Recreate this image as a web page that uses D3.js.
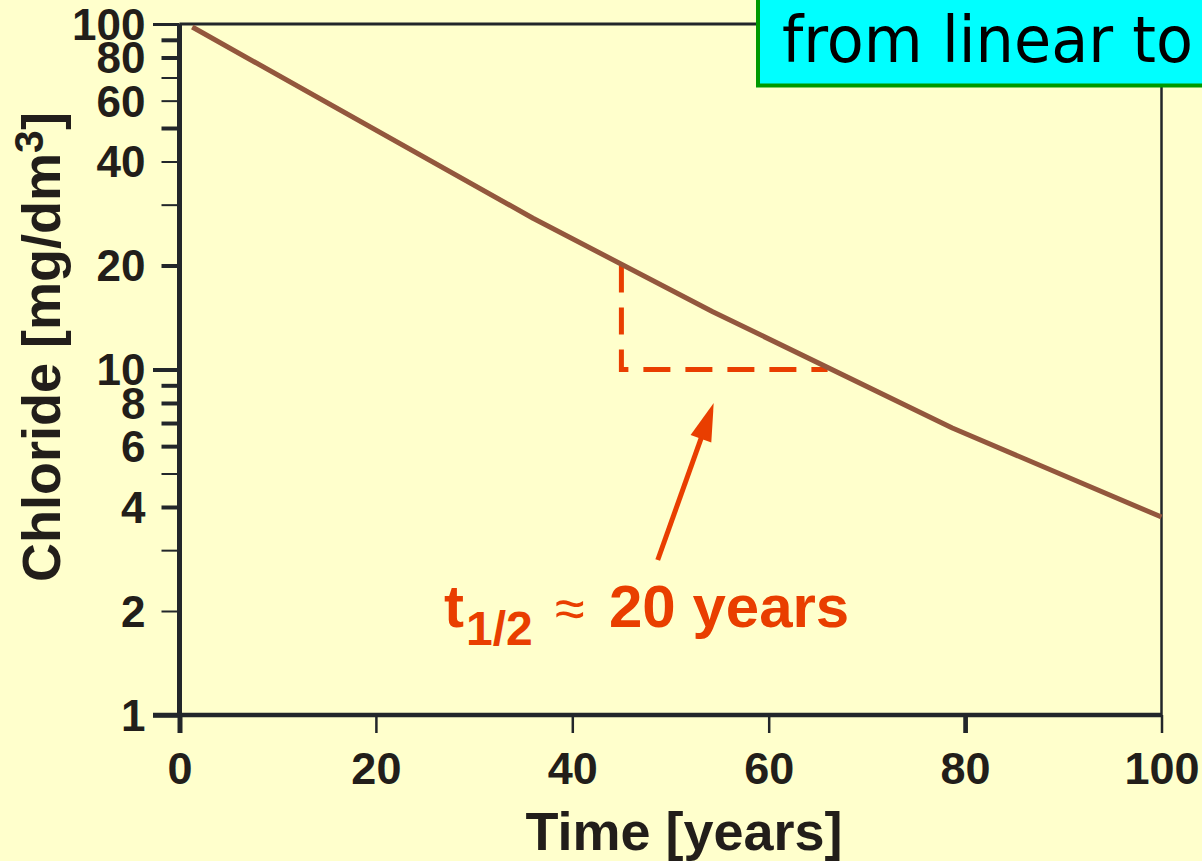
<!DOCTYPE html>
<html>
<head>
<meta charset="utf-8">
<script src="https://cdn.jsdelivr.net/npm/d3@7"></script>
<style>
  body { margin: 0; background: #ffffcc; overflow: hidden; }
  svg { display: block; }
</style>
</head>
<body>
<svg id="chart" width="1202" height="861"></svg>
<script>
// chloride decline, values
const years = [1.3, 36, 54.3, 78.7, 100];
const chloride = [98, 27.4, 14.7, 6.77, 3.74];

const xTicks = [0, 20, 40, 60, 80, 100];
const yTicks = [1, 2, 3, 4, 5, 6, 7, 8, 9, 10, 20, 30, 40, 50, 60, 70, 80, 90, 100];
const yLabels = [1, 2, 4, 6, 8, 10, 20, 40, 60, 80, 100];

// half-life guide (dashed) and the arrow pointing at it
const halfX = [45, 45, 66];
const halfY = [20, 10, 10];
const arrowX = [48.7, 54.4];
const arrowY = [2.81, 8.0];

const axisColor = '#22262a';
const textColor = '#221e1a';
const curveColor = '#93573d';
const noteColor = '#e93e00';
const font = "'Liberation Sans', Arial, Helvetica, sans-serif";

const svg = d3.select('#chart');

svg.append('rect')
  .attr('width', 1202).attr('height', 861)
  .attr('fill', '#ffffcc');

const x = d3.scaleLinear().domain([0, 100]).range([179.5, 1161.5]);
const y = d3.scaleLog().domain([1, 100]).range([715, 24]);

// heavier marks on some ticks, like the original
const yWidth = {1: 4.5, 4: 4, 6: 4, 7: 4, 8: 4, 9: 4, 10: 4, 20: 4, 50: 4, 80: 4, 90: 4, 100: 3};
const xWidth = {0: 5, 80: 4.7};

// y axis
const yAxis = svg.append('g')
  .attr('transform', 'translate(' + x(0) + ',0)')
  .call(d3.axisLeft(y)
    .tickValues(yTicks)
    .tickSize(18)
    .tickPadding(16)
    .tickFormat((d) => yLabels.includes(d) ? d : ''));
yAxis.select('.domain').remove();
yAxis.attr('font-family', font).attr('font-size', 44).attr('font-weight', 'bold');
yAxis.selectAll('.tick line')
  .attr('stroke', axisColor)
  .attr('stroke-width', (d) => yWidth[d] || 2)
  .attr('x2', (d) => (d === 1 || d === 10 || d === 100) ? -26.5 : -18);
yAxis.selectAll('.tick text').attr('fill', textColor).attr('dy', '0.35em');

// x axis
const xAxis = svg.append('g')
  .attr('transform', 'translate(0,' + y(1) + ')')
  .call(d3.axisBottom(x)
    .tickValues(xTicks)
    .tickSize(18)
    .tickPadding(19));
xAxis.select('.domain').remove();
xAxis.attr('font-family', font).attr('font-size', 45).attr('font-weight', 'bold');
xAxis.selectAll('.tick line')
  .attr('stroke', axisColor)
  .attr('stroke-width', (d) => xWidth[d] || 2.5);
xAxis.selectAll('.tick text').attr('fill', textColor);

// frame
const frame = svg.append('g').attr('stroke', axisColor);
frame.append('line')
  .attr('x1', x(0)).attr('x2', x(0)).attr('y1', y(100)).attr('y2', y(1))
  .attr('stroke-width', 5);
frame.append('line')
  .attr('x1', x(0) - 26.5).attr('x2', x(100)).attr('y1', y(1)).attr('y2', y(1))
  .attr('stroke-width', 4.5);
frame.append('line')
  .attr('x1', x(0)).attr('x2', x(100) + 1).attr('y1', y(100)).attr('y2', y(100))
  .attr('stroke-width', 3);
frame.append('line')
  .attr('x1', x(100)).attr('x2', x(100)).attr('y1', y(100)).attr('y2', y(1))
  .attr('stroke-width', 2.5);

// dashed half-life triangle
const line = d3.line()
  .x((d) => x(d[0]))
  .y((d) => y(d[1]));

svg.append('path')
  .datum(d3.zip(halfX, halfY))
  .attr('d', line)
  .attr('fill', 'none')
  .attr('stroke', noteColor)
  .attr('stroke-width', 5)
  .attr('stroke-dasharray', '27 15');

// the curve
svg.append('path')
  .datum(d3.zip(years, chloride))
  .attr('d', line)
  .attr('fill', 'none')
  .attr('stroke', curveColor)
  .attr('stroke-width', 5)
  .attr('stroke-linejoin', 'round');

// arrow
const tail = [x(arrowX[0]), y(arrowY[0])];
const tip = [x(arrowX[1]), y(arrowY[1])];
const len = Math.hypot(tip[0] - tail[0], tip[1] - tail[1]);
const ux = (tip[0] - tail[0]) / len, uy = (tip[1] - tail[1]) / len;
const headLen = 38, headHalf = 11;
const base = [tip[0] - ux * headLen, tip[1] - uy * headLen];
svg.append('line')
  .attr('x1', tail[0]).attr('y1', tail[1])
  .attr('x2', base[0] + ux * 2).attr('y2', base[1] + uy * 2)
  .attr('stroke', noteColor)
  .attr('stroke-width', 5);
svg.append('polygon')
  .attr('points', [
    tip,
    [base[0] - uy * headHalf, base[1] + ux * headHalf],
    [base[0] + uy * headHalf, base[1] - ux * headHalf]
  ].map((p) => p.join(',')).join(' '))
  .attr('fill', noteColor);

// t1/2 label
const note = svg.append('text')
  .attr('y', 627)
  .attr('font-family', font)
  .attr('font-weight', 'bold')
  .attr('font-size', 60)
  .attr('fill', noteColor);
note.append('tspan').attr('x', 444).text('t');
note.append('tspan').attr('x', 466).attr('font-size', 48).attr('dy', 18).text('1/2');
note.append('tspan').attr('x', 555).attr('font-weight', 'normal').attr('font-size', 54).attr('dy', -18).text('\u2248');
note.append('tspan').attr('x', 609).text('20 years');

// axis titles
svg.append('text')
  .attr('x', 684).attr('y', 850)
  .attr('text-anchor', 'middle')
  .attr('font-family', font)
  .attr('font-weight', 'bold')
  .attr('font-size', 54)
  .attr('fill', textColor)
  .text('Time [years]');

const yTitle = svg.append('text')
  .attr('transform', 'translate(60,347) rotate(-90)')
  .attr('text-anchor', 'middle')
  .attr('font-family', font)
  .attr('font-weight', 'bold')
  .attr('font-size', 54)
  .attr('fill', textColor);
yTitle.append('tspan').text('Chloride [mg/dm');
yTitle.append('tspan').attr('font-size', 41).attr('dy', -17).text('3');
yTitle.append('tspan').attr('dy', 17).text(']');

// cyan caption box, cut off at the right edge
svg.append('rect')
  .attr('x', 758).attr('y', -10)
  .attr('width', 500).attr('height', 95.5)
  .attr('fill', '#00ffff')
  .attr('stroke', '#009900')
  .attr('stroke-width', 4);
svg.append('text')
  .attr('x', 782).attr('y', 62)
  .attr('font-family', "'Comic Sans MS', 'DejaVu Sans', sans-serif")
  .attr('font-size', 64)
  .attr('textLength', 411)
  .attr('lengthAdjust', 'spacingAndGlyphs')
  .attr('fill', '#000')
  .text('from linear to');
</script>
</body>
</html>
